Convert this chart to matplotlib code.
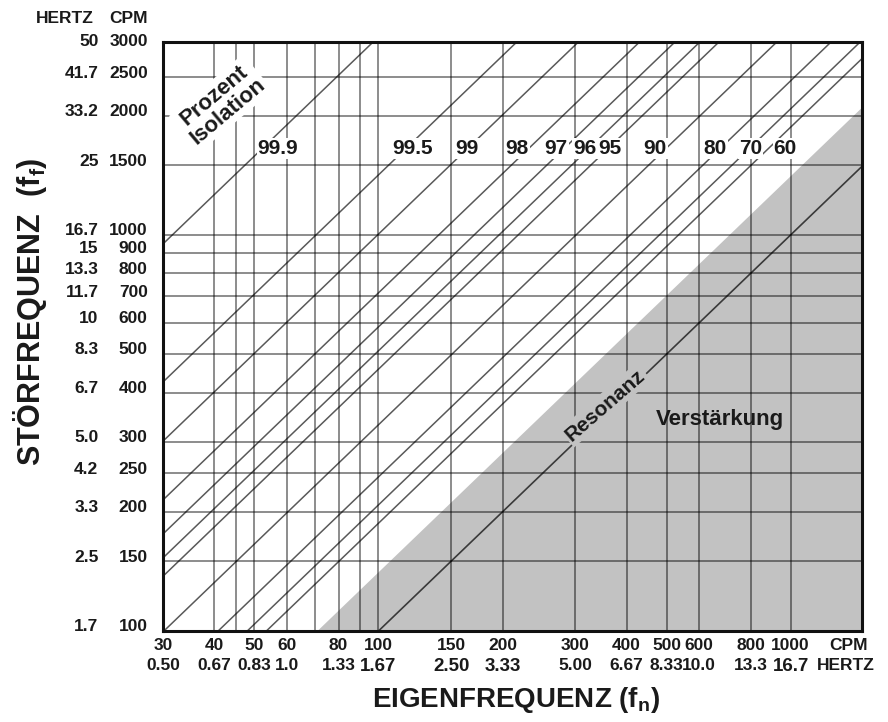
import numpy as np
import matplotlib
matplotlib.use('Agg')
import matplotlib.pyplot as plt
from matplotlib import font_manager
from matplotlib.ticker import NullLocator, NullFormatter

# ---------------- data ----------------
x_cpm = [30, 40, 50, 60, 80, 100, 150, 200, 300, 400, 500, 600, 800, 1000]
x_hz = ['0.50', '0.67', '0.83', '1.0', '1.33', '1.67', '2.50', '3.33',
        '5.00', '6.67', '8.33', '10.0', '13.3', '16.7']
y_cpm = [3000, 2500, 2000, 1500, 1000, 900, 800, 700, 600, 500, 400, 300,
         250, 200, 150, 100]
y_hz = ['50', '41.7', '33.2', '25', '16.7', '15', '13.3', '11.7', '10', '8.3',
        '6.7', '5.0', '4.2', '3.3', '2.5', '1.7']
x_grid = [40, 45, 50, 60, 70, 80, 90, 100, 150, 200, 300, 400, 500, 600, 800, 1000]
y_grid = [150, 200, 250, 300, 400, 500, 600, 700, 800, 900, 1000, 1500, 2000, 2500]
isolation = [99.9, 99.5, 99, 98, 97, 96, 95, 90, 80, 70, 60]
iso_labels = ['99.9', '99.5', '99', '98', '97', '96', '95', '90', '80', '70', '60']
iso_label_fn = [57, 121, 164, 217, 270, 317, 365, 469, 657, 798, 971]  # label anchor (CPM)
resonance_ratio = 1.0
amplification_ratio = np.sqrt(2.0)
x_range = [30, 1490]
y_range = [100, 3070]

# ---------------- fonts ----------------
names = {f.name for f in font_manager.fontManager.ttflist}
BOLD = 'Liberation Sans' if 'Liberation Sans' in names else 'DejaVu Sans'
plt.rcParams['font.family'] = [BOLD, 'DejaVu Sans']
plt.rcParams['mathtext.fontset'] = 'custom'
plt.rcParams['mathtext.rm'] = BOLD + ':bold'
plt.rcParams['mathtext.it'] = BOLD + ':bold'
plt.rcParams['mathtext.bf'] = BOLD + ':bold'

TXT = '#1a1a1a'
GRAY = '#c2c2c2'

fig = plt.figure(figsize=(8.88, 7.22), dpi=100)
ax = fig.add_axes([163 / 888, 91 / 722, 699 / 888, 589 / 722])
ax.set_xscale('log')
ax.set_yscale('log')
ax.set_xlim(*x_range)
ax.set_ylim(*y_range)
for a in (ax.xaxis, ax.yaxis):
    a.set_minor_locator(NullLocator())
    a.set_major_locator(NullLocator())
    a.set_major_formatter(NullFormatter())
ax.tick_params(length=0)

xs = np.array(x_range, dtype=float)

# amplification (shaded) region
ax.fill_between(xs, y_range[0], amplification_ratio * xs, color=GRAY, lw=0, zorder=0)

# grid
for gx in x_grid:
    ax.axvline(gx, color='black', alpha=0.45, lw=1.4, zorder=1)
for gy in y_grid:
    ax.axhline(gy, color='black', alpha=0.45, lw=1.4, zorder=1)

# isolation lines
ratios = [np.sqrt(1.0 + 1.0 / (1.0 - p / 100.0)) for p in isolation]
for r in ratios:
    ax.plot(xs, r * xs, color='black', alpha=0.65, lw=1.1, zorder=2)
ax.plot(xs, resonance_ratio * xs, color='black', alpha=0.7, lw=1.2, zorder=2)

# percent labels
label_level = 1650
for fn, lab in zip(iso_label_fn, iso_labels):
    ax.text(fn, label_level, lab, ha='center', va='center',
            fontsize=15, fontweight='bold', color=TXT, zorder=4,
            bbox=dict(facecolor='white', edgecolor='none', pad=0.8))

ax.text(41.5, 2150, 'Prozent\nIsolation', rotation=40, ha='center', va='center',
        rotation_mode='anchor', fontsize=16, fontweight='bold', color=TXT,
        linespacing=1.0, zorder=4,
        bbox=dict(facecolor='white', edgecolor='none', pad=2.0))

ax.text(355, 372, 'Resonanz', rotation=41, ha='center', va='center',
        rotation_mode='anchor', fontsize=15, fontweight='bold', color=TXT, zorder=4,
        bbox=dict(facecolor=GRAY, edgecolor='none', pad=1.5))
ax.text(675, 341, 'Verstärkung', ha='center', va='center', fontsize=16,
        fontweight='bold', color=TXT, zorder=4)

for s in ax.spines.values():
    s.set_linewidth(2.2)
    s.set_color('#111111')
    s.set_zorder(5)

# x tick labels (CPM row, HERTZ row)
for c, h in zip(x_cpm, x_hz):
    big = h in ('1.67', '2.50', '3.33', '16.7')
    ax.annotate(str(c), xy=(c, 0), xycoords=('data', 'axes fraction'),
                xytext=(0, -5), textcoords='offset points', ha='center', va='top',
                fontsize=12.5, fontweight='bold', color=TXT, annotation_clip=False)
    ax.annotate(h, xy=(c, 0), xycoords=('data', 'axes fraction'),
                xytext=(0, -19.5), textcoords='offset points', ha='center', va='top',
                fontsize=13.5 if big else 12.5, fontweight='bold', color=TXT,
                annotation_clip=False)
ax.annotate('CPM', xy=(1, 0), xycoords='axes fraction', xytext=(-10, -5),
            textcoords='offset points', ha='center', va='top', fontsize=12.5,
            fontweight='bold', color=TXT, annotation_clip=False)
ax.annotate('HERTZ', xy=(1, 0), xycoords='axes fraction', xytext=(-12, -19.5),
            textcoords='offset points', ha='center', va='top', fontsize=12.5,
            fontweight='bold', color=TXT, annotation_clip=False)

# y tick labels (HERTZ column, CPM column)
for c, h in zip(y_cpm, y_hz):
    ax.annotate(str(c), xy=(0, c), xycoords=('axes fraction', 'data'),
                xytext=(-11, 3), textcoords='offset points', ha='right', va='center',
                fontsize=12.5, fontweight='bold', color=TXT, annotation_clip=False)
    ax.annotate(h, xy=(0, c), xycoords=('axes fraction', 'data'),
                xytext=(-46.5, 3), textcoords='offset points', ha='right', va='center',
                fontsize=12.5, fontweight='bold', color=TXT, annotation_clip=False)
ax.annotate('CPM', xy=(0, 1), xycoords='axes fraction', xytext=(-11, 17),
            textcoords='offset points', ha='right', va='center', fontsize=12.5,
            fontweight='bold', color=TXT, annotation_clip=False)
ax.annotate('HERTZ', xy=(0, 1), xycoords='axes fraction', xytext=(-50, 17),
            textcoords='offset points', ha='right', va='center', fontsize=12.5,
            fontweight='bold', color=TXT, annotation_clip=False)

# axis titles
fig.text(30 / 888, 1 - 312 / 722, 'STÖRFREQUENZ  (f$_\\mathrm{f}$)', rotation=90,
         ha='center', va='center', fontsize=22, fontweight='bold', color=TXT)
fig.text(516 / 888, 1 - 700 / 722, 'EIGENFREQUENZ (f$_\\mathrm{n}$)',
         ha='center', va='center', fontsize=20, fontweight='bold', color=TXT)

fig.savefig('out.png', dpi=100, facecolor='white')
